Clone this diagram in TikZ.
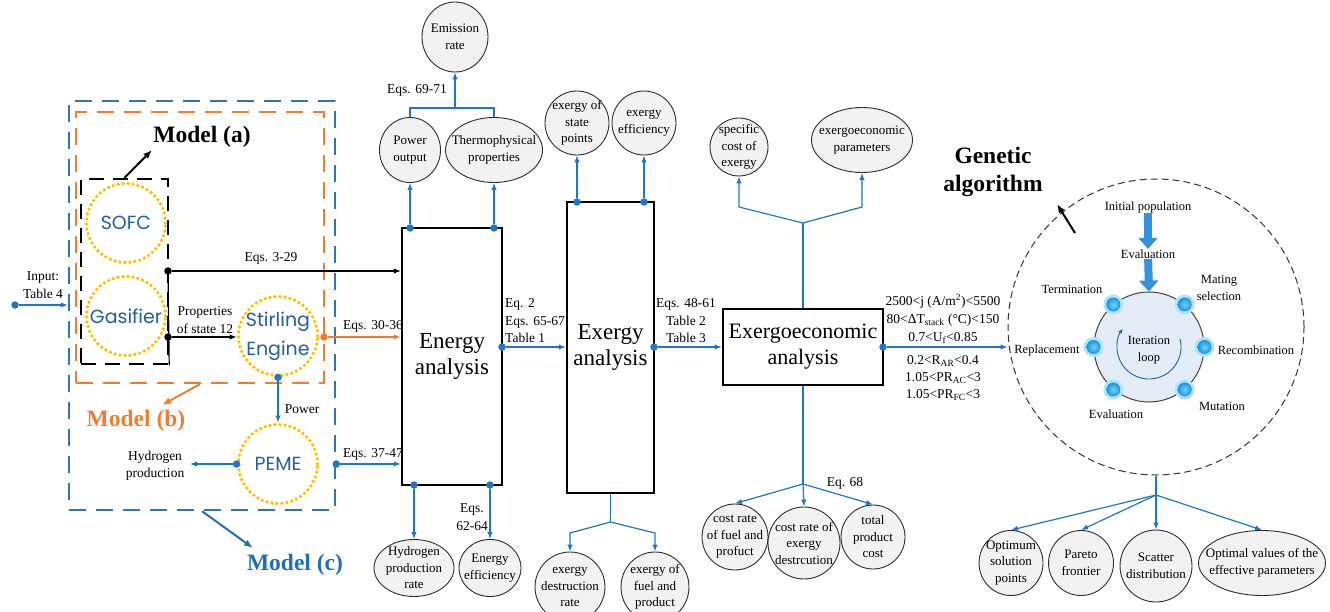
\documentclass[tikz,border=0pt]{standalone}
\usepackage{fontspec}
\setmainfont{Liberation Serif}
\newfontfamily\comicf{Poppins}
\usetikzlibrary{arrows.meta,shapes.geometric,calc}
\definecolor{cblue}{RGB}{30,118,200}
\definecolor{boxblue}{RGB}{46,117,182}
\definecolor{orng}{RGB}{237,125,49}
\definecolor{gold}{RGB}{255,192,0}
\definecolor{comictext}{RGB}{31,95,160}
\definecolor{bubfill}{RGB}{242,242,242}
\definecolor{bord}{RGB}{45,45,45}
\definecolor{modelc}{RGB}{30,110,190}
\definecolor{gablue}{RGB}{52,145,220}
\definecolor{innerfill}{RGB}{228,236,247}
\definecolor{halofill}{RGB}{180,226,248}
\definecolor{dotlight}{RGB}{120,210,250}
\definecolor{dotdark}{RGB}{20,150,225}
\begin{document}
\begin{tikzpicture}[x=1pt,y=-1pt,
  cb/.style={draw=cblue,line width=1.2pt},
  kline/.style={draw=black,line width=1.2pt},
  oline/.style={draw=orng,line width=1.4pt},
  arr/.style={-{Latex[length=7pt,width=5.5pt]}},
  cdot/.style={circle,fill=cblue,inner sep=0pt,minimum size=7.5pt},
  kdot/.style={circle,fill=black,inner sep=0pt,minimum size=7.5pt},
  odotn/.style={circle,fill=orng,inner sep=0pt,minimum size=7.5pt},
  bub/.style={ellipse,draw=bord,fill=bubfill,line width=0.9pt,inner sep=-25pt,align=center,font=\fontsize{13}{16.5}\selectfont},
  lbl/.style={inner sep=1pt,align=center,font=\fontsize{13.5}{17.5}\selectfont},
  gal/.style={inner sep=0.5pt,align=center,font=\fontsize{12.5}{16.5}\selectfont},
  compc/.style={circle,draw=gold,line width=3.8pt,dash pattern=on 0pt off 5pt,line cap=round,minimum size=79pt,inner sep=-20pt,align=center,text=comictext,font=\comicf\fontsize{19}{29}\selectfont},
  bigbox/.style={draw=black,line width=2.4pt,inner sep=0pt,align=center,font=\fontsize{23}{26.5}\selectfont},
  dbox/.style={rectangle,line width=2.4pt,dash pattern=on 17pt off 10pt,inner sep=0pt},
  modl/.style={inner sep=0pt,font=\bfseries\fontsize{23.5}{28.5}\selectfont,align=center},
  garr/.style={draw=gablue,line width=8pt,-{Triangle[length=11pt,width=19pt]}},
  thickarr/.style={line width=2pt,-{Latex[length=9pt,width=7pt]}}
]
\useasboundingbox (0,0) rectangle (1330,612);

% ---------- left: models ----------
\node[dbox,draw=boxblue,minimum width=266pt,minimum height=409pt] (boxC) at (202,305.5) {};
\node[dbox,draw=orng,minimum width=248pt,minimum height=271pt] (boxB) at (200,247.5) {};
\node[dbox,draw=black,dash pattern=on 15pt off 9pt,minimum width=87pt,minimum height=185pt] (boxA) at (124.5,271.5) {};

\node[compc] (sofc) at (126,223) {SOFC};
\node[compc] (gasf) at (126,316) {Gasifier};
\node[compc] (stir) at (278,336) {Stirling\\Engine};
\node[compc] (peme) at (278,464) {PEME};

\node[modl] (mA) at (202,137) {Model (a)};
\coordinate (mAp) at (152,150);
\draw[black,thickarr] (boxA.north) -- (mAp);
\node[modl,text=orng] (mB) at (136,421) {Model (b)};
\coordinate (mBp) at (162,405);
\draw[orng,thickarr] (boxB.south) -- (mBp);
\node[modl,text=modelc] (mC) at (295,565) {Model (c)};
\coordinate (mCp) at (253,548);
\draw[modelc,thickarr] (boxC.south) -- (mCp);

% input
\node[cdot] (ind) at (15,305) {};
\draw[cb,arr] (ind) -- (ind -| boxC.west);
\node[lbl] (linp) at (43,285) {Input:\\Table 4};

% ---------- energy box ----------
\node[bigbox,minimum width=100pt,minimum height=257pt] (en) at (452,356.5) {Energy\\analysis};

\node[kdot] (k1) at (168,271) {};
\node[kdot] (k2) at (168,337) {};
\draw[kline] (k1.center) -- (boxA.south east);
\draw[kline,arr] (k1) -- (k1 -| en.west);
\node[lbl] (l329) at (271,258) {Eqs. 3-29};
\draw[kline,arr] (k2) -- (k2 -| stir.west);
\node[lbl] (lprop) at (205,320) {Properties\\of state 12};

\node[odotn] (o1) at (324,337) {};
\draw[oline,arr] (o1) -- (o1 -| en.west);
\node[lbl] (l3036) at (373,326) {Eqs. 30-36};

\node[cdot] (s1) at (stir.south) {};
\draw[cb,arr] (s1) -- (peme.north);
\node[lbl] (lpow) at (302,409) {Power};

\node[cdot] (p1) at (peme.west) {};
\coordinate (h2) at (190,464);
\draw[cb,arr] (p1) -- (h2);
\node[lbl] (lh2) at (155,466) {Hydrogen\\production};

\node[cdot] (c1) at (boxC.east |- peme) {};
\draw[cb,arr] (c1) -- (c1 -| en.west);
\node[lbl] (l3747) at (373,454) {Eqs. 37-47};

% energy outputs
\node[bub,minimum width=66pt,minimum height=70pt] (emis) at (455,37) {Emission\\rate};
\node[bub,minimum width=61pt,minimum height=65pt] (pow) at (410,150) {Power\\output};
\node[bub,minimum width=97pt,minimum height=65pt] (thermo) at (494,150) {Thermophysical\\properties};
\node[cdot] (et1) at (410,228) {};
\node[cdot] (et2) at (494,228) {};
\draw[cb,arr] (et1) -- (pow.south);
\draw[cb,arr] (et2) -- (thermo.south);
\coordinate (j1) at (455,108);
\draw[cb] (pow.north) |- (j1) -| (thermo.north);
\draw[cb,arr] (j1) -- (emis.south);
\node[lbl] (l6971) at (417,90) {Eqs. 69-71};

\node[bub,minimum width=80pt,minimum height=57pt] (hyd) at (414,568) {Hydrogen\\production\\rate};
\node[bub,minimum width=62pt,minimum height=57pt] (eneff) at (490,568) {Energy\\efficiency};
\node[cdot] (eb1) at (414,485) {};
\node[cdot] (eb2) at (490,485) {};
\draw[cb,arr] (eb1) -- (hyd.north);
\draw[cb,arr] (eb2) -- (eneff.north);
\node[lbl] (l6264) at (472,517) {Eqs.\\62-64};

% ---------- exergy box ----------
\node[bigbox,minimum width=87pt,minimum height=291pt] (ex) at (610.5,347.5) {Exergy\\analysis};
\node[cdot] (er1) at (502,347) {};
\draw[cb,arr] (er1) -- (er1 -| ex.west);
\node[lbl,align=left,anchor=west] (l2) at (504,321) {Eq. 2\\Eqs. 65-67\\Table 1};

\node[bub,minimum width=64pt,minimum height=64pt] (stp) at (577,123) {exergy of\\state\\points};
\node[bub,minimum width=64pt,minimum height=64pt] (eeff) at (644,123) {exergy\\efficiency};
\node[cdot] (xt1) at (577,202) {};
\node[cdot] (xt2) at (644,202) {};
\draw[cb,arr] (xt1) -- (stp.south);
\draw[cb,arr] (xt2) -- (eeff.south);

\node[bub,minimum width=70pt,minimum height=70pt] (exdes) at (570,587) {exergy\\destruction\\rate};
\node[bub,minimum width=68pt,minimum height=70pt] (exfuel) at (655,587) {exergy of\\fuel and\\product};
\coordinate (j2) at (610.5,522);
\draw[cb] (ex.south) -- (j2);
\draw[cb,arr] (j2) -- ++(-40.5,11) -- (exdes.north);
\draw[cb,arr] (j2) -- ++(44.5,11) -- (exfuel.north);

% ---------- exergoeconomic box ----------
\node[bigbox,minimum width=160pt,minimum height=76pt,font=\fontsize{22}{26}\selectfont] (eco) at (803,347) {Exergoeconomic\\analysis};
\node[cdot] (xr1) at (654,347) {};
\draw[cb,arr] (xr1) -- (xr1 -| eco.west);
\node[lbl] (l4861) at (686,321) {Eqs. 48-61\\Table 2\\Table 3};

\node[bub,minimum width=58pt,minimum height=58pt] (spec) at (739,147) {specific\\cost of\\exergy};
\node[bub,minimum width=101pt,minimum height=65pt] (param) at (862,140) {exergoeconomic\\parameters};
\coordinate (j3) at (803,223);
\draw[cb] (eco.north) -- (j3);
\draw[cb,arr] (j3) -- ++(-64,-16) -- (spec.south);
\draw[cb,arr] (j3) -- ++(59,-16) -- (param.south);

\node[bub,minimum width=66pt,minimum height=66pt] (cost1) at (735,537) {cost rate\\of fuel and\\profuct};
\node[bub,minimum width=72pt,minimum height=72pt] (cost2) at (804,543) {cost rate of\\exergy\\destrcution};
\node[bub,minimum width=64pt,minimum height=64pt] (cost3) at (873,537) {total\\product\\cost};
\coordinate (j4) at (803,484);
\draw[cb] (eco.south) -- (j4);
\draw[cb,arr] (j4) -- (cost1.north);
\draw[cb,arr] (j4) -- (cost2.north);
\draw[cb,arr] (j4) -- (cost3.north);
\node[lbl] (l68) at (845,483) {Eq. 68};

% ---------- genetic algorithm ----------
\node[circle,draw=black!80,line width=1pt,dash pattern=on 7pt off 4pt,minimum size=296pt,inner sep=0pt] (ga) at (1156,327) {};
\node[cdot] (gd) at (883,347) {};
\draw[cb,arr] (gd) -- (gd -| ga.west);
\node[lbl,font=\fontsize{13.5}{18}\selectfont] (rng1) at (943,319) {2500<j (A/m\textsuperscript{2})<5500\\80<ΔT\textsubscript{stack} (°C)<150\\0.7<U\textsubscript{f}<0.85};
\node[lbl,font=\fontsize{13.5}{17}\selectfont] (rng2) at (943,378) {0.2<R\textsubscript{AR}<0.4\\1.05<PR\textsubscript{AC}<3\\1.05<PR\textsubscript{FC}<3};

\node[modl] (gatitle) at (993,172) {Genetic\\algorithm};
\coordinate (gaq) at (1075,233);
\coordinate (gaqt) at (1057,204);
\draw[black,thickarr] (gaq) -- (gaqt);

\node[circle,draw=black!75,fill=innerfill,line width=1pt,minimum size=110pt,inner sep=0pt] (inner) at (1149,347) {};
\node[gal] (iter) at (1149,350) {Iteration\\loop};
\draw[cblue!85!black,line width=0.9pt,-{Latex[length=5pt,width=4pt]}] (inner.center) ++(-15:32) arc[start angle=-15,end angle=215,radius=32];
\foreach \a in {0,50,130,180,230,310}{
  \fill[halofill] (inner.\a) circle (10);
  \shade[inner color=dotlight,outer color=dotdark] (inner.\a) circle (7);
}

\node[gal] (ginit) at (1148,207) {Initial population};
\node[gal] (geval) at (1148,254) {Evaluation};
\draw[garr] (ginit) -- (geval);
\draw[garr] (geval) -- (inner.north);

\node[gal] (gterm) at (1072,289) {Termination};
\node[gal] (gmate) at (1219,288) {Mating\\selection};
\node[gal] (grec) at (1256,350) {Recombination};
\node[gal] (grep) at (1047,350) {Replacement};
\node[gal] (gmut) at (1222,406) {Mutation};
\node[gal] (geval2) at (1116,414) {Evaluation};

\node[bub,minimum width=64pt,minimum height=65pt] (opt) at (1011,563) {Optimum\\solution\\points};
\node[bub,minimum width=65pt,minimum height=65pt] (pareto) at (1081,563) {Pareto\\frontier};
\node[bub,minimum width=72pt,minimum height=72pt] (scatter) at (1156,566) {Scatter\\distribution};
\node[bub,minimum width=127pt,minimum height=65pt] (optval) at (1262,563) {Optimal values of the\\effective parameters};
\coordinate (j5) at (1156,495);
\draw[cb] (ga.south) -- (j5);
\draw[cb,arr] (j5) -- (opt.north);
\draw[cb,arr] (j5) -- (pareto.north);
\draw[cb,arr] (j5) -- (scatter.north);
\draw[cb,arr] (j5) -- (optval.north);
\end{tikzpicture}
\end{document}
